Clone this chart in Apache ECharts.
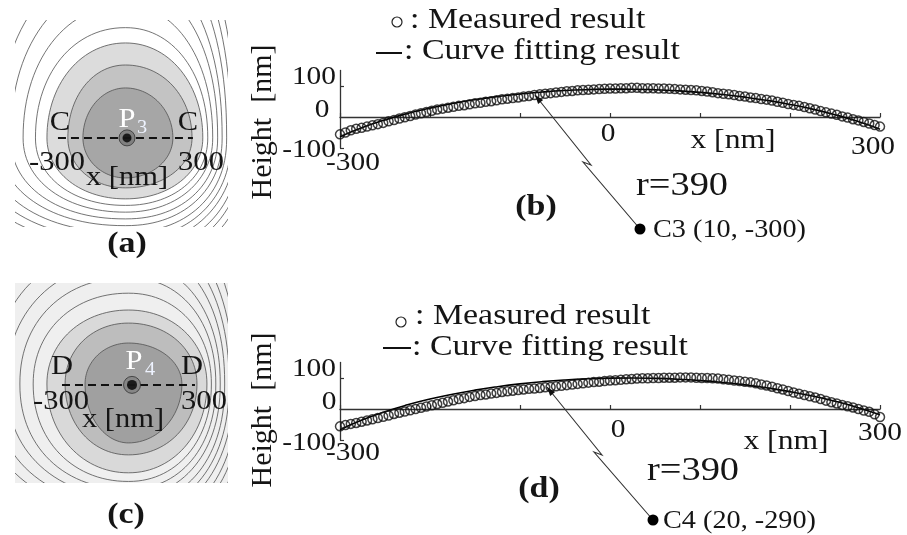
<!DOCTYPE html>
<html><head><meta charset="utf-8">
<script src="https://cdn.jsdelivr.net/npm/echarts@6/dist/echarts.min.js"></script>
<style>html,body{margin:0;padding:0;background:#fff}#c{width:907px;height:535px}</style>
</head><body><div id="c"></div>
<script>
// ---------------- DATA ----------------
const measuredX = [-300,-294,-288,-282,-276,-270,-264,-258,-252,-246,-240,-234,-228,-222,-216,-210,-204,-198,-192,-186,-180,-174,-168,-162,-156,-150,-144,-138,-132,-126,-120,-114,-108,-102,-96,-90,-84,-78,-72,-66,-60,-54,-48,-42,-36,-30,-24,-18,-12,-6,0,6,12,18,24,30,36,42,48,54,60,66,72,78,84,90,96,102,108,114,120,126,132,138,144,150,156,162,168,174,180,186,192,198,204,210,216,222,228,234,240,246,252,258,264,270,276,282,288,294,300];
const measuredB = [-56,-50,-43,-38,-35,-31,-27,-23,-19,-14,-10,-5,-1,3,8,12,16,20,24,27,30,33,36,38,41,44,46,49,51,54,57,59,61,63,66,68,71,73,75,77,79,81,83,84,86,87,88,89,90,91,92,92,93,93,94,94,93,93,93,92,92,91,90,89,88,87,86,84,82,80,77,75,73,71,68,66,63,61,58,56,53,49,46,42,39,36,32,28,24,19,15,11,7,2,-2,-7,-11,-16,-21,-26,-31];
const measuredD = [-56,-52,-48,-45,-41,-37,-33,-29,-25,-21,-16,-12,-8,-4,0,4,8,12,16,20,24,28,32,35,39,42,45,47,50,52,55,57,59,61,63,65,66,68,70,71,73,75,77,79,81,83,85,87,88,90,92,93,94,96,97,98,99,99,100,100,101,101,101,102,102,102,101,100,100,99,98,96,94,92,90,88,86,83,79,76,72,67,63,58,53,49,45,41,37,32,27,22,18,13,9,5,0,-5,-9,-17,-26];
const fitX = [-300,-275,-250,-225,-200,-175,-150,-125,-100,-75,-50,-25,0,25,50,75,100,125,150,175,200,225,250,275,300];
const fitB = [-63.4,-33.8,-9.3,11.2,28.6,43.3,55.7,65.9,74.2,80.6,85.4,88.4,89.9,89.7,87.9,84.5,79.5,72.7,64.0,53.4,40.6,25.4,7.4,-13.9,-39.2];
const fitD = [-67.1,-34.9,-8.6,13.4,32.0,47.7,61.0,72.0,81.1,88.3,93.7,97.4,99.5,100.0,98.8,96.1,91.7,85.6,77.7,67.9,56.0,41.8,25.0,5.1,-18.5];
const sectionX = [-300, 300];          // dashed section line C-C / D-D
const peakA = [7, 0];                  // P3
const peakC = [16, -4];                // P4
// contour rings: [left, right, top, bottom, roundness, level]
const ringsA = [
  [-1010,590,1590,-630,2.3,0],[-950,570,1490,-600,2.3,0],[-895,550,1390,-570,2.3,0],[-840,530,1290,-540,2.25,0],
  [-785,510,1190,-510,2.25,0],[-730,490,1090,-480,2.2,0],[-675,470,990,-450,2.2,0],[-620,450,890,-420,2.2,0],
  [-565,430,790,-390,2.15,0],[-510,410,690,-360,2.15,0],[-455,388,590,-330,2.1,0],[-400,366,490,-300,2.1,0],
  [-349,344,422,-271,2.05,1],[-256,296,324,-222,2.05,2],[-189,211,222,-178,2.0,3]
];
const ringsC = [
  [-1030,574,1110,-790,2.3,0],[-970,554,1040,-755,2.3,0],[-910,534,970,-720,2.3,0],[-850,514,900,-685,2.25,0],
  [-790,494,830,-650,2.25,0],[-730,474,760,-615,2.2,0],[-670,454,690,-580,2.2,0],[-610,434,620,-545,2.2,0],
  [-550,414,550,-510,2.15,0],[-490,394,480,-475,2.15,0],[-430,374,410,-440,2.1,0],
  [-368,354,334,-401,2.05,1],[-286,309,275,-320,2.05,2],[-196,241,185,-266,2.0,3]
];
const xTickLabels = ['-300', '0', '300'];
const yTickLabels = ['100', '0', '-100'];

// ---------------- STYLE / LAYOUT ----------------
const FONT = 'Liberation Serif';
const SX = 1.13;
const fillsA = ['none', '#dcdcdc', '#c3c3c3', '#a6a6a6'];
const fillsC = ['none', '#d9d9d9', '#bdbdbd', '#a0a0a0'];

const chart = echarts.init(document.getElementById('c'));

function pairs(xs, ys) { return xs.map((x, i) => [x, ys[i]]); }

function ringRenderer(fills) {
  return function (params, api) {
    const l = api.value(0), r = api.value(1), t = api.value(2), b = api.value(3), n = api.value(4), lev = api.value(5);
    const pts = [];
    const N = 120;
    for (let k = 0; k < N; k++) {
      const a = k / N * Math.PI * 2;
      const c = Math.cos(a), s = Math.sin(a);
      const px = Math.sign(c) * Math.pow(Math.abs(c), 2 / n) * (c >= 0 ? r : -l);
      const py = Math.sign(s) * Math.pow(Math.abs(s), 2 / n) * (s >= 0 ? t : -b);
      pts.push(api.coord([px, py]));
    }
    return {
      type: 'polygon',
      shape: { points: pts },
      style: { fill: fills[lev], stroke: '#505050', lineWidth: 0.8 }
    };
  };
}

function txt(str, x, y, size, o) {
  o = o || {};
  return {
    type: 'text', x: x, y: y, scaleX: o.sx || SX, rotation: o.rot || 0, z: 100, silent: true,
    style: {
      text: str,
      fontFamily: FONT,
      fontSize: size,
      fontWeight: o.bold ? 'bold' : 'normal',
      fill: o.fill || '#151515',
      align: o.align || 'center',
      verticalAlign: 'middle'
    }
  };
}

function profileAxes(gi) {
  return {
    x: {
      type: 'value', gridIndex: gi, min: -300, max: 300, interval: 100,
      axisLine: { show: true, onZero: true, lineStyle: { color: '#333', width: 1.3 } },
      axisTick: { show: true, inside: true, length: 4, lineStyle: { color: '#333', width: 1.2 } },
      axisLabel: { show: false }, splitLine: { show: false }
    },
    y: {
      type: 'value', gridIndex: gi, min: -100, max: 150,
      axisLine: { show: true, onZero: false, lineStyle: { color: '#333', width: 1.3 } },
      axisTick: { show: true, inside: true, length: 4, customValues: [-100, 100], lineStyle: { color: '#333', width: 1.2 } },
      axisLabel: { show: false }, splitLine: { show: false }
    }
  };
}
const axB = profileAxes(0), axD = profileAxes(1);

const hiddenAxis = (gi, min, max) => ({ type: 'value', gridIndex: gi, min: min, max: max, show: false });

const graphics = [];
const layB = { yl: [[336, 77, 'right'], [322, 110, 'center'], [336, 150, 'right']], xl: [[353, 163], [608, 134], [873, 147]], xname: [733, 141] };
const layD = { yl: [[336, 369, 'right'], [329, 402, 'center'], [336, 443, 'right']], xl: [[353, 453], [618, 430], [880, 433]], xname: [786, 442] };
[layB, layD].forEach(L => {
  yTickLabels.forEach((s, i) => graphics.push(txt(s, L.yl[i][0], L.yl[i][1], 26, { align: L.yl[i][2] })));
  xTickLabels.forEach((s, i) => graphics.push(txt(s, L.xl[i][0], L.xl[i][1], 26)));
  graphics.push(txt('x [nm]', L.xname[0], L.xname[1], 28));
});
graphics.push(txt('Height  [nm]', 263, 122, 30, { rot: Math.PI / 2, sx: 1.0 }));
graphics.push(txt('Height  [nm]', 263, 410, 30, { rot: Math.PI / 2, sx: 1.0 }));

function legend(cx, cy, lx1, lx2, ly, tx1, ty1, tx2, ty2) {
  graphics.push({ type: 'circle', shape: { cx: cx, cy: cy, r: 5 }, style: { fill: 'none', stroke: '#222', lineWidth: 1.2 }, z: 100 });
  graphics.push(txt(': Measured result', tx1, ty1, 30, { align: 'left' }));
  graphics.push({ type: 'line', shape: { x1: lx1, y1: ly, x2: lx2, y2: ly }, style: { stroke: '#111', lineWidth: 2 }, z: 100 });
  graphics.push(txt(': Curve fitting result', tx2, ty2, 30, { align: 'left' }));
}
legend(397, 22, 376, 402, 53, 410, 20, 404, 51);
legend(401, 322, 383, 411, 348, 415, 316, 412, 347);

function radius(pts, tip, dot, rtxt, rpos, lbl, lpos, ctxt, cpos) {
  graphics.push({ type: 'polyline', shape: { points: pts }, style: { stroke: '#333', lineWidth: 1.1, fill: 'none' }, z: 90 });
  const dx = pts[1][0] - tip[0], dy = pts[1][1] - tip[1], len = Math.hypot(dx, dy);
  const ux = dx / len, uy = dy / len;
  const bx = tip[0] + ux * 9, by = tip[1] + uy * 9;
  graphics.push({ type: 'polygon', shape: { points: [tip, [bx - uy * 3.2, by + ux * 3.2], [bx + uy * 3.2, by - ux * 3.2]] }, style: { fill: '#111' }, z: 91 });
  graphics.push({ type: 'circle', shape: { cx: dot[0], cy: dot[1], r: 5.5 }, style: { fill: '#000' }, z: 100 });
  graphics.push(txt(rtxt, rpos[0], rpos[1], 34));
  graphics.push(txt(lbl, lpos[0], lpos[1], 30, { bold: true }));
  graphics.push(txt(ctxt, cpos[0], cpos[1], 25, { align: 'left' }));
}
radius([[535, 95], [591, 165], [583, 162], [640, 229]], [535, 95], [640, 229], 'r=390', [682, 186], '(b)', [536, 207], 'C3 (10, -300)', [653, 230]);
radius([[547, 387], [602, 455], [594, 452], [653, 520]], [547, 387], [653, 520], 'r=390', [693, 471], '(d)', [539, 489], 'C4 (20, -290)', [663, 521]);

graphics.push(txt('C', 60, 123, 27), txt('C', 188, 123, 27));
graphics.push(txt('P', 127, 120, 27, { fill: '#fff' }), txt('3', 142, 128, 18, { fill: '#eef3ff' }));
graphics.push(txt('-300', 57, 163, 27), txt('300', 201, 163, 27), txt('x [nm]', 127, 178, 27));
graphics.push(txt('(a)', 127, 244, 30, { bold: true }));
graphics.push(txt('D', 62, 367, 27), txt('D', 192, 367, 27));
graphics.push(txt('P', 134, 362, 27, { fill: '#fff' }), txt('4', 150, 370, 18, { fill: '#eef3ff' }));
graphics.push(txt('-300', 61, 402, 27), txt('300', 204, 402, 27), txt('x [nm]', 123, 420, 27));
graphics.push(txt('(c)', 126, 515, 30, { bold: true }));

const option = {
  backgroundColor: '#fff',
  animation: false,
  grid: [
    { left: 340, top: 70.5, width: 540, height: 77.5 },
    { left: 340, top: 362.5, width: 540, height: 77.5 },
    { left: 15, top: 20, width: 213, height: 207, show: true, backgroundColor: '#ffffff', borderWidth: 0 },
    { left: 15, top: 283, width: 213, height: 200, show: true, backgroundColor: '#efefef', borderWidth: 0 }
  ],
  xAxis: [axB.x, axD.x, hiddenAxis(2, -491, 456), hiddenAxis(3, -512, 449)],
  yAxis: [axB.y, axD.y, hiddenAxis(2, -396, 524), hiddenAxis(3, -447, 456)],
  series: [
    { name: 'Curve fitting result', type: 'line', xAxisIndex: 0, yAxisIndex: 0, data: pairs(fitX, fitB), smooth: true, symbol: 'none', lineStyle: { color: '#000', width: 1.6 }, z: 3 },
    { name: 'Measured result', type: 'scatter', xAxisIndex: 0, yAxisIndex: 0, data: pairs(measuredX, measuredB), symbol: 'circle', symbolSize: 9, itemStyle: { color: 'rgba(0,0,0,0)', borderColor: '#111', borderWidth: 1.5 }, z: 4 },
    { name: 'Curve fitting result', type: 'line', xAxisIndex: 1, yAxisIndex: 1, data: pairs(fitX, fitD), smooth: true, symbol: 'none', lineStyle: { color: '#000', width: 1.6 }, z: 3 },
    { name: 'Measured result', type: 'scatter', xAxisIndex: 1, yAxisIndex: 1, data: pairs(measuredX, measuredD), symbol: 'circle', symbolSize: 9, itemStyle: { color: 'rgba(0,0,0,0)', borderColor: '#111', borderWidth: 1.5 }, z: 4 },
    { type: 'custom', xAxisIndex: 2, yAxisIndex: 2, data: ringsA, renderItem: ringRenderer(fillsA), clip: true, silent: true, z: 1 },
    { type: 'custom', xAxisIndex: 3, yAxisIndex: 3, data: ringsC, renderItem: ringRenderer(fillsC), clip: true, silent: true, z: 1 },
    { type: 'line', xAxisIndex: 2, yAxisIndex: 2, data: sectionX.map(x => [x, 0]), symbol: 'none', lineStyle: { color: '#111', width: 2, type: [8, 5] }, z: 5 },
    { type: 'line', xAxisIndex: 3, yAxisIndex: 3, data: sectionX.map(x => [x, peakC[1]]), symbol: 'none', lineStyle: { color: '#111', width: 2, type: [8, 5] }, z: 5 },
    { type: 'scatter', xAxisIndex: 2, yAxisIndex: 2, data: [peakA], symbolSize: 16, itemStyle: { color: '#777', borderColor: '#333', borderWidth: 1 }, z: 6 },
    { type: 'scatter', xAxisIndex: 2, yAxisIndex: 2, data: [peakA], symbolSize: 9, itemStyle: { color: '#000' }, z: 7 },
    { type: 'scatter', xAxisIndex: 3, yAxisIndex: 3, data: [peakC], symbolSize: 17, itemStyle: { color: '#808080', borderColor: '#333', borderWidth: 1 }, z: 6 },
    { type: 'scatter', xAxisIndex: 3, yAxisIndex: 3, data: [peakC], symbolSize: 10, itemStyle: { color: '#000' }, z: 7 }
  ],
  graphic: { elements: graphics }
};
chart.setOption(option);
</script>
</body></html>
